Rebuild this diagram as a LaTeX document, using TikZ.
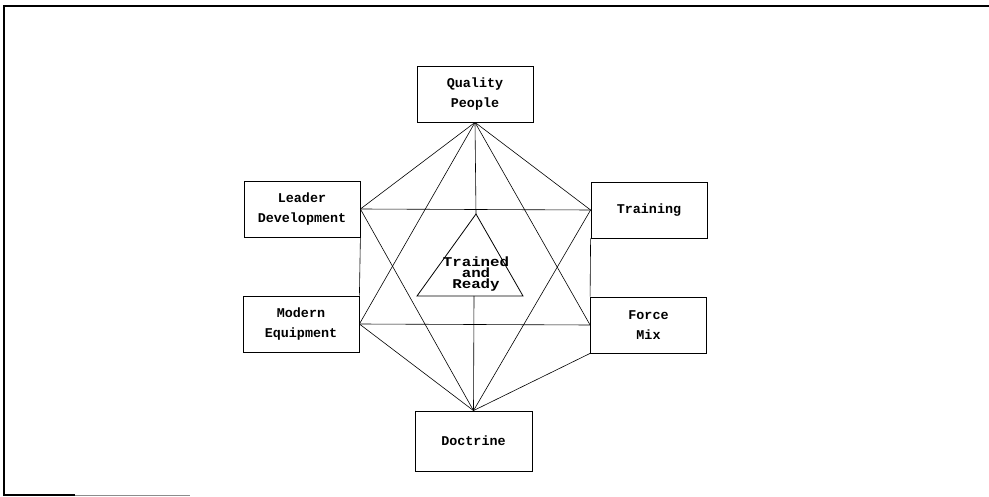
\documentclass[tikz,border=0pt]{standalone}
\usepackage{fontspec}
\usepackage{graphicx}
\newfontfamily\diagfont{Liberation Mono}
\tikzset{
  box/.style={draw, line width=0.8pt, minimum width=116pt, minimum height=56pt,
    inner sep=0pt, align=center, font={\diagfont\bfseries\fontsize{13.4}{20}\selectfont}},
  link/.style={line width=0.6pt},
  frame/.style={line width=2.2pt},
}
\begin{document}
\begin{tikzpicture}[x=1pt,y=-1pt]
\useasboundingbox (0,0) rectangle (989,497);
% frame
\draw[frame] (4,495) -- (4,6) -- (989,6);
\draw[frame] (3,495) -- (75,495);
\draw[line width=1pt, black!45] (75,495.5) -- (190,495.5);
% boxes
\node[box] (qp) at (475,94) {Quality\\People};
\node[box] (ld) at (302,209) {Leader\\Development};
\node[box] (tr) at (649,210) {Training};
\node[box] (me) at (301,324) {Modern\\Equipment};
\node[box] (fm) at (648.5,325) {Force\\Mix};
\node[box, minimum width=117pt, minimum height=60pt] (doc) at (473.5,441) {Doctrine};
% central triangle
\coordinate (apex) at (476,214);
\coordinate (bl) at (417,296);
\coordinate (br) at (523,296);
\coordinate (bm) at (474,296);
\draw[link, line width=0.8pt] (apex) -- (bl) -- (br) -- cycle;
\node[inner sep=0pt, align=center, font={\diagfont\bfseries\fontsize{13.4}{11}\selectfont}] (tar) at (476,274)
  {\scalebox{1.18}[1]{Trained}\\\scalebox{1.18}[1]{and}\\\scalebox{1.18}[1]{Ready}};
% connectors from Quality People
\draw[link] (qp.south) -- (ld.east);
\draw[link] (qp.south) -- (tr.west);
\draw[link] (qp.south) -- (me.east);
\draw[link] (qp.south) -- (fm.west);
\draw[link] (qp.south) -- (apex);
% connectors to Doctrine
\draw[link] (doc.north) -- (ld.east);
\draw[link] (doc.north) -- (tr.west);
\draw[link] (doc.north) -- (me.east);
\draw[link] (doc.north) -- (fm.south west);
\draw[link] (doc.north) -- (bm);
% rectangle
\draw[link] (ld.east) -- (tr.west);
\draw[link] (me.east) -- (fm.west);
\draw[link] (ld.south east) -- (me.north east);
\draw[link] (tr.south west) -- (fm.north west);
\end{tikzpicture}
\end{document}
